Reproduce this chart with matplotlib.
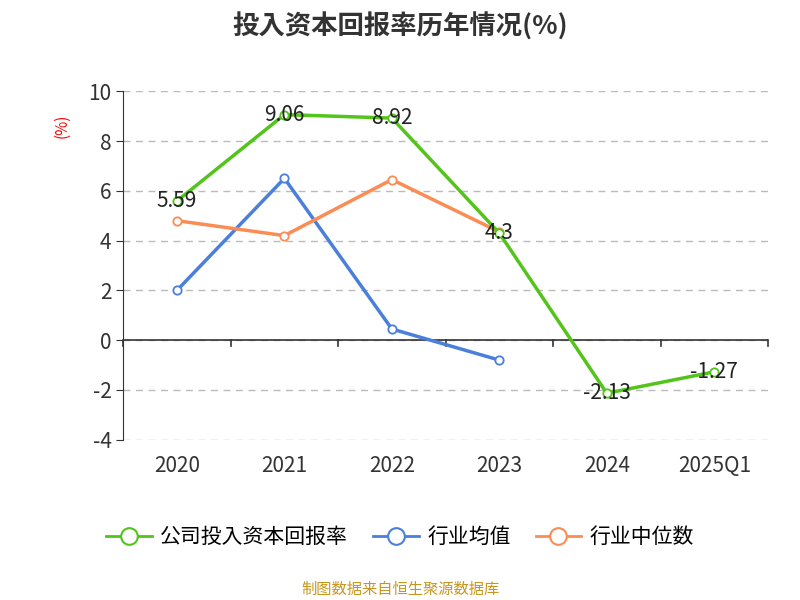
import matplotlib
matplotlib.use("Agg")
import matplotlib.pyplot as plt
from matplotlib.lines import Line2D
from matplotlib import font_manager

names = {f.name for f in font_manager.fontManager.ttflist}
cjk = [n for n in ["Noto Sans CJK SC", "Noto Sans CJK JP", "Noto Sans CJK TC", "Noto Sans CJK KR", "Noto Sans SC"] if n in names]
plt.rcParams['font.family'] = 'sans-serif'
plt.rcParams['font.sans-serif'] = cjk + ["DejaVu Sans"]
plt.rcParams['axes.unicode_minus'] = False

categories = ["2020", "2021", "2022", "2023", "2024", "2025Q1"]
company = [5.59, 9.06, 8.92, 4.3, -2.13, -1.27]
ind_mean = [2.0, 6.5, 0.45, -0.8]
ind_median = [4.8, 4.2, 6.45, 4.35]
company_labels = ["5.59", "9.06", "8.92", "4.3", "-2.13", "-1.27"]

green, blue, orange = "#52c41a", "#4a7fdc", "#fa8c54"

fig = plt.figure(figsize=(8, 6), dpi=100)
ax = fig.add_axes([0.154, 0.267, 0.806, 0.581])
x = list(range(len(categories)))
ax.plot(x, company, color=green, lw=2.5, marker='o', ms=6, mfc='white', mew=1.3, zorder=4)
ax.plot(x[:len(ind_mean)], ind_mean, color=blue, lw=2.5, marker='o', ms=6, mfc='white', mew=1.3, zorder=3)
ax.plot(x[:len(ind_median)], ind_median, color=orange, lw=2.5, marker='o', ms=6, mfc='white', mew=1.3, zorder=3)
for xi, v, t in zip(x, company, company_labels):
    ax.text(xi, v, t, ha='center', va='center', fontsize=15, color='#222', zorder=5)

ax.set_xlim(-0.5, len(categories) - 0.5)
ax.set_ylim(-4, 10)
ax.set_yticks(range(-4, 11, 2))
ax.tick_params(axis='y', labelsize=15, colors='#333', length=5)
ax.grid(axis='y', ls=(0, (5, 4)), color='#bbb', lw=1)
for s in ['top', 'right', 'bottom']:
    ax.spines[s].set_visible(False)
ax.spines['left'].set_color('#333')
ax.axhline(0, color='#333', lw=1.2)
ax.set_xticks([])
for b in [i - 0.5 for i in range(len(categories) + 1)]:
    ax.plot([b, b], [0, -0.25], color='#333', lw=1.2, clip_on=False)
for xi, c in zip(x, categories):
    ax.text(xi, -4.6, c, ha='center', va='top', fontsize=15, color='#333')
ax.text(-1.07, 8.6, "(%)", rotation=90, color='red', fontsize=11, ha='center', va='center')

fig.text(0.5, 0.955, "投入资本回报率历年情况(%)", ha='center', va='center', fontsize=19, fontweight='bold', color='#333')
handles = [Line2D([], [], color=c, lw=2, marker='o', ms=12, mfc='white', mew=1.5) for c in (green, blue, orange)]
fig.legend(handles, ["公司投入资本回报率", "行业均值", "行业中位数"], loc='center', bbox_to_anchor=(0.5, 0.105),
           ncol=3, frameon=False, fontsize=15, handlelength=2.2, columnspacing=1.2, handletextpad=0.4)
fig.text(0.5, 0.018, "制图数据来自恒生聚源数据库", ha='center', va='center', fontsize=11, color='#c8961e')
fig.savefig("out.png", dpi=100)
